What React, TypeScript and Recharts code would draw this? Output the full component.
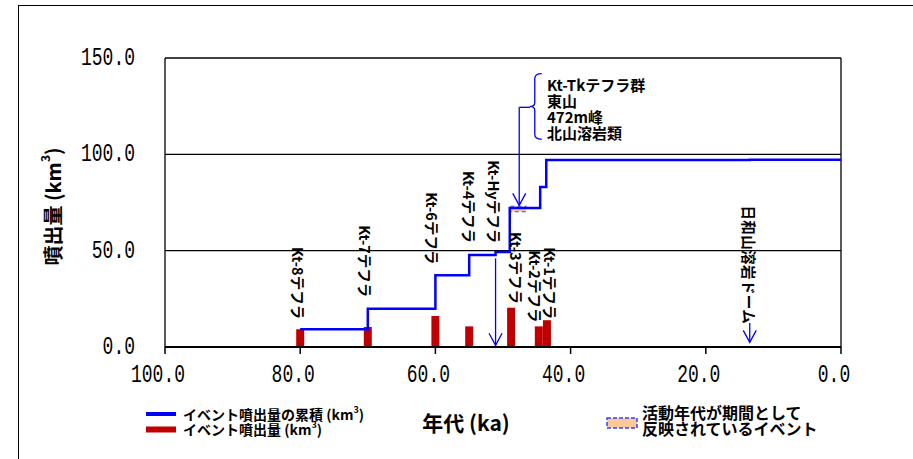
import React from "react";
import {
  ComposedChart,
  Bar,
  Line,
  Scatter,
  XAxis,
  YAxis,
  CartesianGrid,
  ReferenceLine,
  ReferenceArea,
} from "recharts";

const JP = '"Noto Sans CJK JP", "Noto Sans", sans-serif';
const MONO = '"Liberation Mono", "DejaVu Sans Mono", monospace';
const BLUE = "#0000FF";
const RED = "#C00000";

const ageTicks = [100, 80, 60, 40, 20, 0];
const volumeTicks = [0, 50, 100, 150];

// each event's erupted volume (km3) by age (ka)
const events = [
  { age: 80, volume: 9.2 },
  { age: 70, volume: 10.4 },
  { age: 60, volume: 16.1 },
  { age: 55, volume: 10.7 },
  { age: 48.8, volume: 20.4 },
  { age: 44.7, volume: 10.7 },
  { age: 43.5, volume: 13.9 },
  { age: 13.5, volume: 0.5 },
];

// running total as plotted
const cumulative = [
  { age: 80, total: 9.2 },
  { age: 70, total: 19.9 },
  { age: 60, total: 37.2 },
  { age: 55, total: 47.8 },
  { age: 51.1, total: 49.3 },
  { age: 49, total: 72.1 },
  { age: 44.5, total: 83.0 },
  { age: 43.6, total: 97.0 },
  { age: 13.5, total: 97.2 },
  { age: 0, total: 97.2 },
];

// event names, anchored at the top of each label
const eventLabels = [
  { age: 80.2, top: 51.9, text: "Kt-8テフラ" },
  { age: 70.3, top: 63.2, text: "Kt-7テフラ" },
  { age: 60.5, top: 80.3, text: "Kt-6テフラ" },
  { age: 55.0, top: 91.4, text: "Kt-4テフラ" },
  { age: 51.3, top: 96.9, text: "Kt-Hyテフラ" },
  { age: 48.0, top: 59.7, text: "Kt-3テフラ" },
  { age: 45.2, top: 50.2, text: "Kt-2テフラ" },
  { age: 42.9, top: 51.8, text: "Kt-1テフラ" },
  { age: 13.5, top: 73.5, text: "日和山溶岩ドーム" },
];

const tkGroupLines = [
  { age: 43.5, pos: 136.3, text: "Kt-Tkテフラ群" },
  { age: 43.5, pos: 128.0, text: "東山" },
  { age: 43.5, pos: 119.7, text: "472m峰" },
  { age: 43.5, pos: 111.4, text: "北山溶岩類" },
];

// period over which the Kt-Tk group is spread
const tkPeriod = { from: 48.9, to: 46.6, low: 70.3, high: 73.0 };

const arrows = [
  { from: { x: 51.1, y: 46 }, to: { x: 51.1, y: 0.9 } },
  { from: { x: 13.5, y: 12.4 }, to: { x: 13.5, y: 2.4 } },
  { from: { x: 47.6, y: 124.4 }, to: { x: 47.6, y: 73.5 } },
];
const tkElbow = [
  { x: 46.0, y: 124.4 },
  { x: 47.6, y: 124.4 },
];
const tkBrace = [
  { x: 45.3, y: 141.9 },
  { x: 45.3, y: 107.8 },
];

const MonoTick = (props: any) => {
  const { x, y, payload, anchor, dx = 0 } = props;
  return (
    <g transform={`translate(${x + dx},${y}) scale(1,1.45)`}>
      <text
        textAnchor={anchor}
        dominantBaseline="central"
        fontFamily={MONO}
        fontSize={18}
        fill="#000"
      >
        {Number(payload.value).toFixed(1)}
      </text>
    </g>
  );
};

const EventBar = (props: any) => {
  const { x, y, width, height } = props;
  if (!height) return null;
  return <rect x={x + width / 2 - 4} y={y} width={8} height={height} fill={RED} />;
};

const ArrowShape = (props: any) => {
  const { x1, y1, x2, y2 } = props;
  const len = Math.hypot(x2 - x1, y2 - y1) || 1;
  const ux = (x2 - x1) / len;
  const uy = (y2 - y1) / len;
  const hx = x2 - ux * 12;
  const hy = y2 - uy * 12;
  return (
    <g stroke={BLUE} strokeWidth={1.3} fill="none">
      <line x1={x1} y1={y1} x2={x2} y2={y2} />
      <polyline
        points={`${hx - uy * 6.5},${hy + ux * 6.5} ${x2},${y2} ${hx + uy * 6.5},${hy - ux * 6.5}`}
      />
    </g>
  );
};

const PlainShape = (props: any) => {
  const { x1, y1, x2, y2 } = props;
  return <line x1={x1} y1={y1} x2={x2} y2={y2} stroke={BLUE} strokeWidth={1.3} />;
};

const BraceShape = (props: any) => {
  const { x1, y1, y2 } = props;
  const x = x1;
  const mid = (y1 + y2) / 2;
  const d = `M${x + 7},${y1} Q${x},${y1} ${x},${y1 + 5} L${x},${mid - 4} Q${x},${mid} ${x - 5},${mid} Q${x},${mid} ${x},${mid + 4} L${x},${y2 - 5} Q${x},${y2} ${x + 7},${y2}`;
  return <path d={d} stroke={BLUE} strokeWidth={1.3} fill="none" />;
};

const StandingLabel = (props: any) => {
  const { cx, cy, payload } = props;
  return (
    <text
      transform={`translate(${cx},${cy}) rotate(90)`}
      dominantBaseline="central"
      fontFamily={JP}
      fontSize={14.5}
      fontWeight="bold"
      letterSpacing={payload.text.startsWith("日") ? 0.4 : 0}
      fill="#000"
    >
      {payload.text}
    </text>
  );
};

const LineLabel = (props: any) => {
  const { cx, cy, payload } = props;
  return (
    <text
      x={cx}
      y={cy}
      dominantBaseline="central"
      fontFamily={JP}
      fontSize={15}
      fontWeight="bold"
      fill="#000"
    >
      {payload.text}
    </text>
  );
};

const YTitle = (props: any) => {
  const vb = props.viewBox;
  const cx = vb.x + 52;
  const cy = vb.y + vb.height / 2 + 4;
  return (
    <text
      transform={`translate(${cx},${cy}) rotate(-90)`}
      textAnchor="middle"
      dominantBaseline="central"
      fontFamily={JP}
      fontSize={20}
      fontWeight="bold"
      fill="#000"
    >
      噴出量 (km
      <tspan fontSize={12} dy={-8}>
        3
      </tspan>
      <tspan dy={8}>)</tspan>
    </text>
  );
};

const XTitle = (props: any) => {
  const vb = props.viewBox;
  return (
    <text
      x={vb.x + 301}
      y={vb.y + 75}
      textAnchor="middle"
      dominantBaseline="central"
      fontFamily={JP}
      fontSize={21}
      fontWeight="bold"
      fill="#000"
    >
      年代 (ka)
    </text>
  );
};

const LegendOverlay = () => (
  <svg
    width={913}
    height={459}
    style={{ position: "absolute", left: 0, top: 0, pointerEvents: "none" }}
  >
    <line x1={146} x2={176} y1={414} y2={414} stroke={BLUE} strokeWidth={4} />
    <rect x={146} y={426.5} width={30} height={6} fill={RED} />
    <text x={183} y={414} dominantBaseline="central" fontFamily={JP} fontSize={14} fontWeight="bold">
      イベント噴出量の累積 (km
      <tspan fontSize={9} dy={-5}>3</tspan>
      <tspan dy={5}>)</tspan>
    </text>
    <text x={183} y={429} dominantBaseline="central" fontFamily={JP} fontSize={14} fontWeight="bold">
      イベント噴出量 (km
      <tspan fontSize={9} dy={-5}>3</tspan>
      <tspan dy={5}>)</tspan>
    </text>
    <rect
      x={607}
      y={418}
      width={30}
      height={10}
      fill="#FBC89A"
      stroke="#3344FF"
      strokeWidth={1.5}
      strokeDasharray="4 2"
    />
    <text x={642} y={412} dominantBaseline="central" fontFamily={JP} fontSize={16} fontWeight="bold">
      活動年代が期間として
    </text>
    <text x={642} y={428} dominantBaseline="central" fontFamily={JP} fontSize={16} fontWeight="bold">
      反映されているイベント
    </text>
  </svg>
);

export default function App() {
  return (
    <div
      style={{
        position: "fixed",
        left: 0,
        top: 0,
        width: 913,
        height: 459,
        overflow: "hidden",
        background: "#fff",
      }}
    >
      <div
        style={{
          position: "absolute",
          left: 17.5,
          top: 5.3,
          width: 2000,
          height: 2000,
          border: "1.4px solid #000",
        }}
      />
      <div style={{ position: "absolute", left: 0, top: 0 }}>
        <ComposedChart
          width={913}
          height={459}
          data={events}
          margin={{ top: 58, right: 72, bottom: 72, left: 0 }}
        >
          <CartesianGrid vertical={false} stroke="#000" strokeWidth={1.3} />
          <XAxis
            dataKey="age"
            type="number"
            domain={[0, 100]}
            ticks={ageTicks}
            interval={0}
            reversed
            height={40}
            axisLine={{ stroke: "#000", strokeWidth: 2 }}
            tickLine={{ stroke: "#000", strokeWidth: 1.5 }}
            tickSize={7}
            tickMargin={21}
            tick={(p: any) => <MonoTick {...p} anchor="middle" dx={-7} />}
            label={<XTitle />}
          />
          <YAxis
            type="number"
            domain={[0, 150]}
            ticks={volumeTicks}
            interval={0}
            width={165}
            axisLine={{ stroke: "#000", strokeWidth: 1.3 }}
            tickLine={false}
            tickSize={0}
            tickMargin={30}
            tick={(p: any) => <MonoTick {...p} anchor="end" />}
            label={<YTitle />}
          />
          <ReferenceLine x={0} stroke="#000" strokeWidth={1.3} />
          <Bar dataKey="volume" fill={RED} shape={EventBar} isAnimationActive={false} />
          <Line
            data={cumulative}
            dataKey="total"
            type="stepAfter"
            stroke={BLUE}
            strokeWidth={2.5}
            dot={false}
            isAnimationActive={false}
          />
          <ReferenceArea
            x1={tkPeriod.from}
            x2={tkPeriod.to}
            y1={tkPeriod.low}
            y2={tkPeriod.high}
            fill="#FBC89A"
            fillOpacity={1}
            stroke="#5566FF"
            strokeWidth={1.2}
            strokeDasharray="4 3"
          />
          {arrows.map((a, i) => (
            <ReferenceLine key={`arrow-${i}`} segment={[a.from, a.to]} shape={ArrowShape} />
          ))}
          <ReferenceLine segment={tkElbow} shape={PlainShape} />
          <ReferenceLine segment={tkBrace} shape={BraceShape} />
          <Scatter
            data={eventLabels}
            dataKey="top"
            shape={StandingLabel}
            isAnimationActive={false}
          />
          <Scatter
            data={tkGroupLines}
            dataKey="pos"
            shape={LineLabel}
            isAnimationActive={false}
          />
        </ComposedChart>
      </div>
      <LegendOverlay />
    </div>
  );
}
